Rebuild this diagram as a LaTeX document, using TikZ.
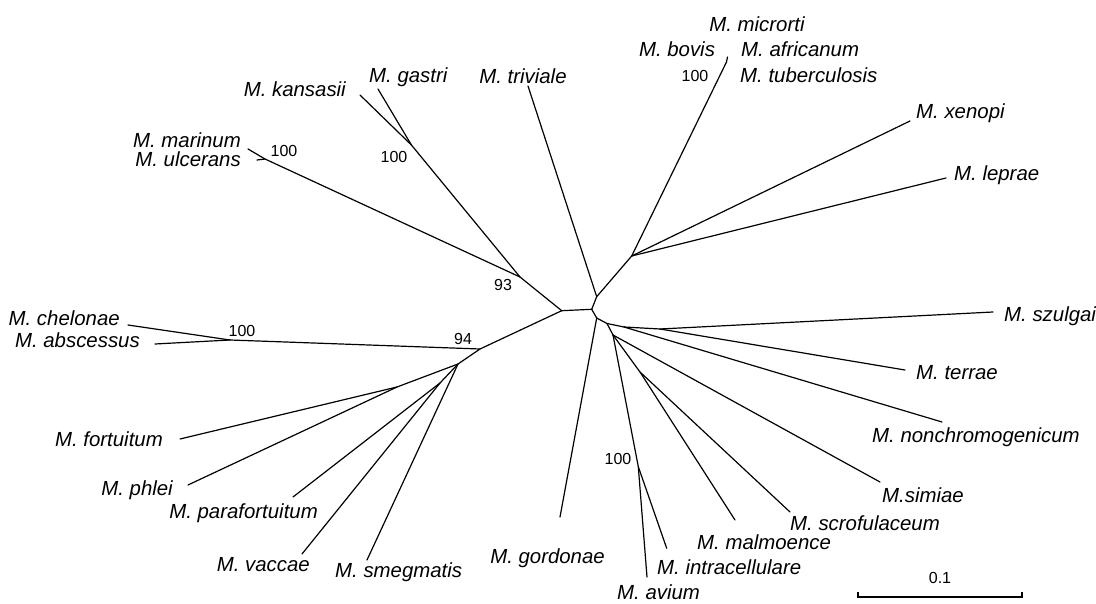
\documentclass[tikz,border=0pt]{standalone}
\usepackage{fontspec}
\setmainfont{Liberation Sans}
\begin{document}
\begin{tikzpicture}[x=1pt,y=-1pt,
  br/.style={line width=1.2pt, line cap=round, line join=round},
  lab/.style={font=\fontsize{20.4}{22}\selectfont\itshape, inner sep=0pt},
  bs/.style={font=\fontsize{16}{18}\selectfont, inner sep=0pt}]
\useasboundingbox (0,0) rectangle (1096,604);
% ---- internal nodes and leaf ends
\coordinate (L) at (561.7,310.7);
\coordinate (R) at (591.7,309.3);
\coordinate (T) at (596.7,296.7);
\coordinate (X) at (631.7,256);
\coordinate (TB) at (726.5,62);
\coordinate (tbtip) at (727.5,57);
\coordinate (trv) at (528,86);
\coordinate (xen) at (910,121);
\coordinate (lep) at (946,178);
\coordinate (G0) at (596.7,318);
\coordinate (gor) at (560,517);
\coordinate (S) at (607,323.5);
\coordinate (A) at (624,327);
\coordinate (B) at (660,329);
\coordinate (szu) at (993,312);
\coordinate (ter) at (905,370);
\coordinate (non) at (942,422);
\coordinate (C) at (613,335);
\coordinate (sim) at (880,482);
\coordinate (AI) at (638.3,466.7);
\coordinate (avi) at (647,577);
\coordinate (int) at (666.7,548.3);
\coordinate (N2) at (640,372);
\coordinate (mal) at (735,520);
\coordinate (scr) at (790,512);
\coordinate (N93) at (520,277);
\coordinate (MU) at (265,159);
\coordinate (mar) at (248,149);
\coordinate (ulc) at (257,160);
\coordinate (KG) at (411.4,145);
\coordinate (kan) at (360,95);
\coordinate (gas) at (378,89);
\coordinate (P) at (480,349);
\coordinate (CA) at (230,340);
\coordinate (che) at (128,325);
\coordinate (abs) at (155,344);
\coordinate (F) at (458,364);
\coordinate (FP) at (397,387);
\coordinate (for) at (180,439);
\coordinate (phl) at (188,485);
\coordinate (PV) at (440,383);
\coordinate (par) at (293,497);
\coordinate (vac) at (302,554);
\coordinate (sme) at (367,560);
% ---- branches
\draw[br] (L) -- (R);
\draw[br] (R) -- (T) -- (X) -- (TB) -- (tbtip);
\draw[br] (T) -- (trv);
\draw[br] (X) -- (xen);
\draw[br] (X) -- (lep);
\draw[br] (R) -- (G0) -- (gor);
\draw[br] (G0) -- (S) -- (A) -- (B) -- (szu);
\draw[br] (B) -- (ter);
\draw[br] (A) -- (non);
\draw[br] (S) -- (C) -- (sim);
\draw[br] (C) -- (AI) -- (avi);
\draw[br] (AI) -- (int);
\draw[br] (C) -- (N2) -- (mal);
\draw[br] (N2) -- (scr);
\draw[br] (L) -- (N93) -- (MU) -- (mar);
\draw[br] (MU) -- (ulc);
\draw[br] (N93) -- (KG) -- (kan);
\draw[br] (KG) -- (gas);
\draw[br] (L) -- (P) -- (CA) -- (che);
\draw[br] (CA) -- (abs);
\draw[br] (P) -- (F) -- (FP) -- (for);
\draw[br] (FP) -- (phl);
\draw[br] (F) -- (PV) -- (par);
\draw[br] (PV) -- (vac);
\draw[br] (F) -- (sme);
% ---- labels
\node[lab] (lmic) at (757,24) {M. microrti};
\node[lab] (lbov) at (677,49) {M. bovis};
\node[lab,anchor=west] (lafr) at (741,49) {M. africanum};
\node[lab,anchor=west] (ltub) at (740,75) {M. tuberculosis};
\node[lab,anchor=west] (lxen) at (916,113) {M. xenopi};
\node[lab,anchor=west] (llep) at (954,175) {M. leprae};
\node[lab,anchor=west] (lszu) at (1004,316) {M. szulgai};
\node[lab,anchor=west] (lter) at (916,373) {M. terrae};
\node[lab,anchor=west] (lnon) at (872,437) {M. nonchromogenicum};
\node[lab,anchor=west] (lsim) at (882,495) {M.simiae};
\node[lab,anchor=west] (lscr) at (790,523) {M. scrofulaceum};
\node[lab,anchor=west] (lmal) at (697,542) {M. malmoence};
\node[lab,anchor=west] (lint) at (657,567) {M. intracellulare};
\node[lab,anchor=west] (lavi) at (617,592) {M. avium};
\node[lab,anchor=east] (lgor) at (605,558) {M. gordonae};
\node[lab,anchor=west] (lsme) at (335,572) {M. smegmatis};
\node[lab,anchor=east] (lvac) at (310,565) {M. vaccae};
\node[lab,anchor=east] (lpar) at (318,513) {M. parafortuitum};
\node[lab,anchor=east] (lphl) at (173,490) {M. phlei};
\node[lab,anchor=east] (lfor) at (163,439) {M. fortuitum};
\node[lab,anchor=east] (labs) at (140,340) {M. abscessus};
\node[lab,anchor=east] (lche) at (120,318) {M. chelonae};
\node[lab,anchor=east] (lulc) at (241,159) {M. ulcerans};
\node[lab,anchor=east] (lmar) at (241,140) {M. marinum};
\node[lab,anchor=east] (lkan) at (346,89) {M. kansasii};
\node[lab,anchor=west] (lgas) at (369,77) {M. gastri};
\node[lab] (ltrv) at (523,76) {M. triviale};
% ---- bootstrap values
\node[bs] (b1) at (695,76) {100};
\node[bs] (b2) at (284,151) {100};
\node[bs] (b3) at (394,157) {100};
\node[bs] (b4) at (503,285) {93};
\node[bs] (b5) at (463,339) {94};
\node[bs] (b6) at (242,331) {100};
\node[bs] (b7) at (618,459) {100};
% ---- scale bar
\coordinate (s1) at (858,597);
\coordinate (s2) at (1022,597);
\draw[line width=1.1pt] ([yshift=5pt]s1) -- (s1) -- (s2) -- ([yshift=5pt]s2);
\node[bs] (sl) at (940,578) {0.1};
\end{tikzpicture}
\end{document}
